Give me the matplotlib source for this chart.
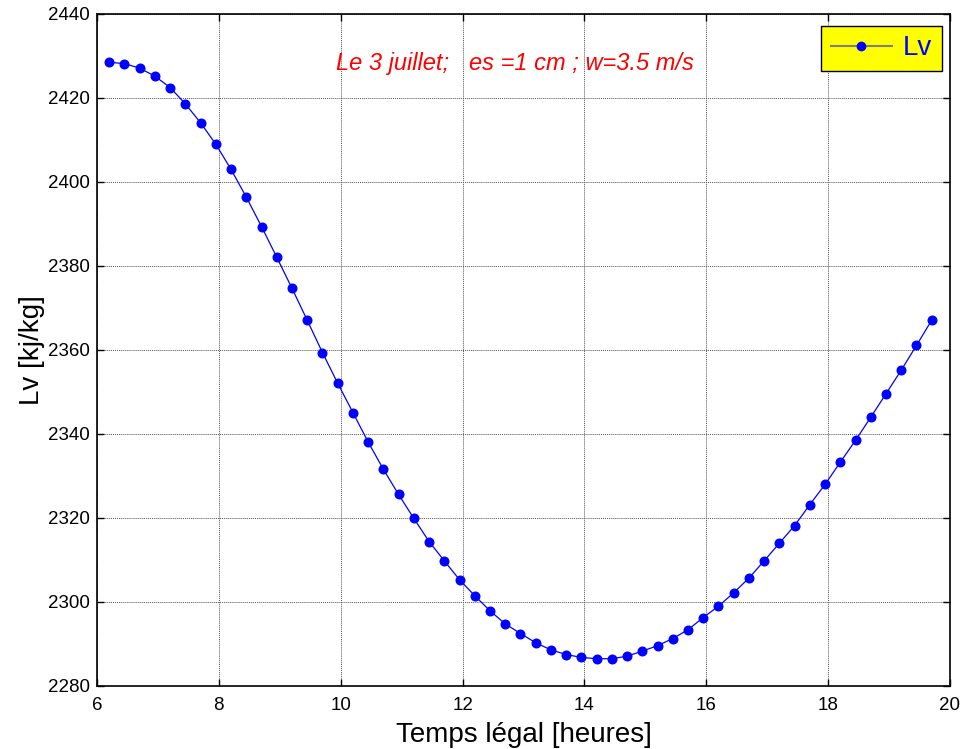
import numpy as np
import matplotlib
matplotlib.use("Agg")
import matplotlib.pyplot as plt
from matplotlib.lines import Line2D

plt.rcParams['font.family'] = ['Liberation Sans', 'DejaVu Sans']

# heure legale (pas de 0.25 h)
temps = [6.2, 6.45, 6.7, 6.95, 7.2, 7.45, 7.7, 7.95, 8.2, 8.45, 8.7,
         8.95, 9.2, 9.45, 9.7, 9.95, 10.2, 10.45, 10.7,
         10.95, 11.2, 11.45, 11.7, 11.95, 12.2,
         12.45, 12.7, 12.95, 13.2, 13.45, 13.7, 13.95, 14.2, 14.45, 14.7,
         14.95, 15.2, 15.45, 15.7, 15.95, 16.2, 16.45, 16.7, 16.95, 17.2,
         17.45, 17.7, 17.95, 18.2, 18.45, 18.7, 18.95, 19.2, 19.45, 19.7]
# chaleur latente de vaporisation Lv [kJ/kg]
lv = [2428.5, 2428.2, 2427.1, 2425.2, 2422.5, 2418.6, 2414.1, 2409.0, 2403.0, 2396.4, 2389.4,
      2382.1, 2374.7, 2367.1, 2359.4, 2352.1, 2345.1, 2338.1, 2331.6,
      2325.6, 2319.9, 2314.4, 2309.8, 2305.3, 2301.5,
      2297.9, 2294.8, 2292.5, 2290.3, 2288.6, 2287.5, 2286.8, 2286.5, 2286.5, 2287.1,
      2288.3, 2289.6, 2291.3, 2293.4, 2296.3, 2299.0, 2302.2, 2305.7, 2309.8, 2314.0,
      2318.2, 2323.2, 2328.0, 2333.3, 2338.5, 2344.0, 2349.6, 2355.2, 2361.1, 2367.1]

xticks = [6, 8, 10, 12, 14, 16, 18, 20]
yticks = [2280, 2300, 2320, 2340, 2360, 2380, 2400, 2420, 2440]

fig = plt.figure(figsize=(9.62, 7.49), dpi=100)
ax = fig.add_axes([97/962, (749-686)/749, (950-97)/962, (686-14)/749])

ax.plot(temps, lv, '-', color='blue', lw=0.9, marker='o', ms=6.2, mfc='blue',
        mec='blue')

ax.set_xlim(6, 20)
ax.set_ylim(2280, 2440)
ax.set_xticks(xticks)
ax.set_yticks(yticks)
ax.grid(True, color='#555555', linestyle=(0, (1, 1)), linewidth=0.7)
ax.tick_params(direction='in', top=True, right=True, labelsize=13.5,
               length=5, width=1)
ax.tick_params(axis='x', pad=8)
ax.tick_params(axis='y', pad=5)
for s in ax.spines.values():
    s.set_linewidth(1.2)

ax.set_xlabel('Temps légal [heures]', fontsize=20, labelpad=6)
ax.set_ylabel('Lv [kj/kg]', fontsize=20, labelpad=2)

ax.text(0.49, 0.927, 'Le 3 juillet;   es =1 cm ; w=3.5 m/s', transform=ax.transAxes,
        color='red', style='italic', fontsize=17, ha='center', va='center')

# legende : trait gris, marqueur bleu, fond jaune
handle = Line2D([], [], color='#808080', lw=1.5, marker='o', ms=6,
                mfc='blue', mec='blue')
leg = ax.legend([handle], ['Lv'], loc='upper right',
                bbox_to_anchor=((942-97)/853, (686-25.7)/672), borderaxespad=0,
                fontsize=20, facecolor='yellow', edgecolor='black',
                fancybox=False, framealpha=1, handlelength=2.2, borderpad=0.35,
                handletextpad=0.4)
leg.get_frame().set_linewidth(1.0)
for t in leg.get_texts():
    t.set_color('blue')

fig.savefig('out.png', dpi=100)
